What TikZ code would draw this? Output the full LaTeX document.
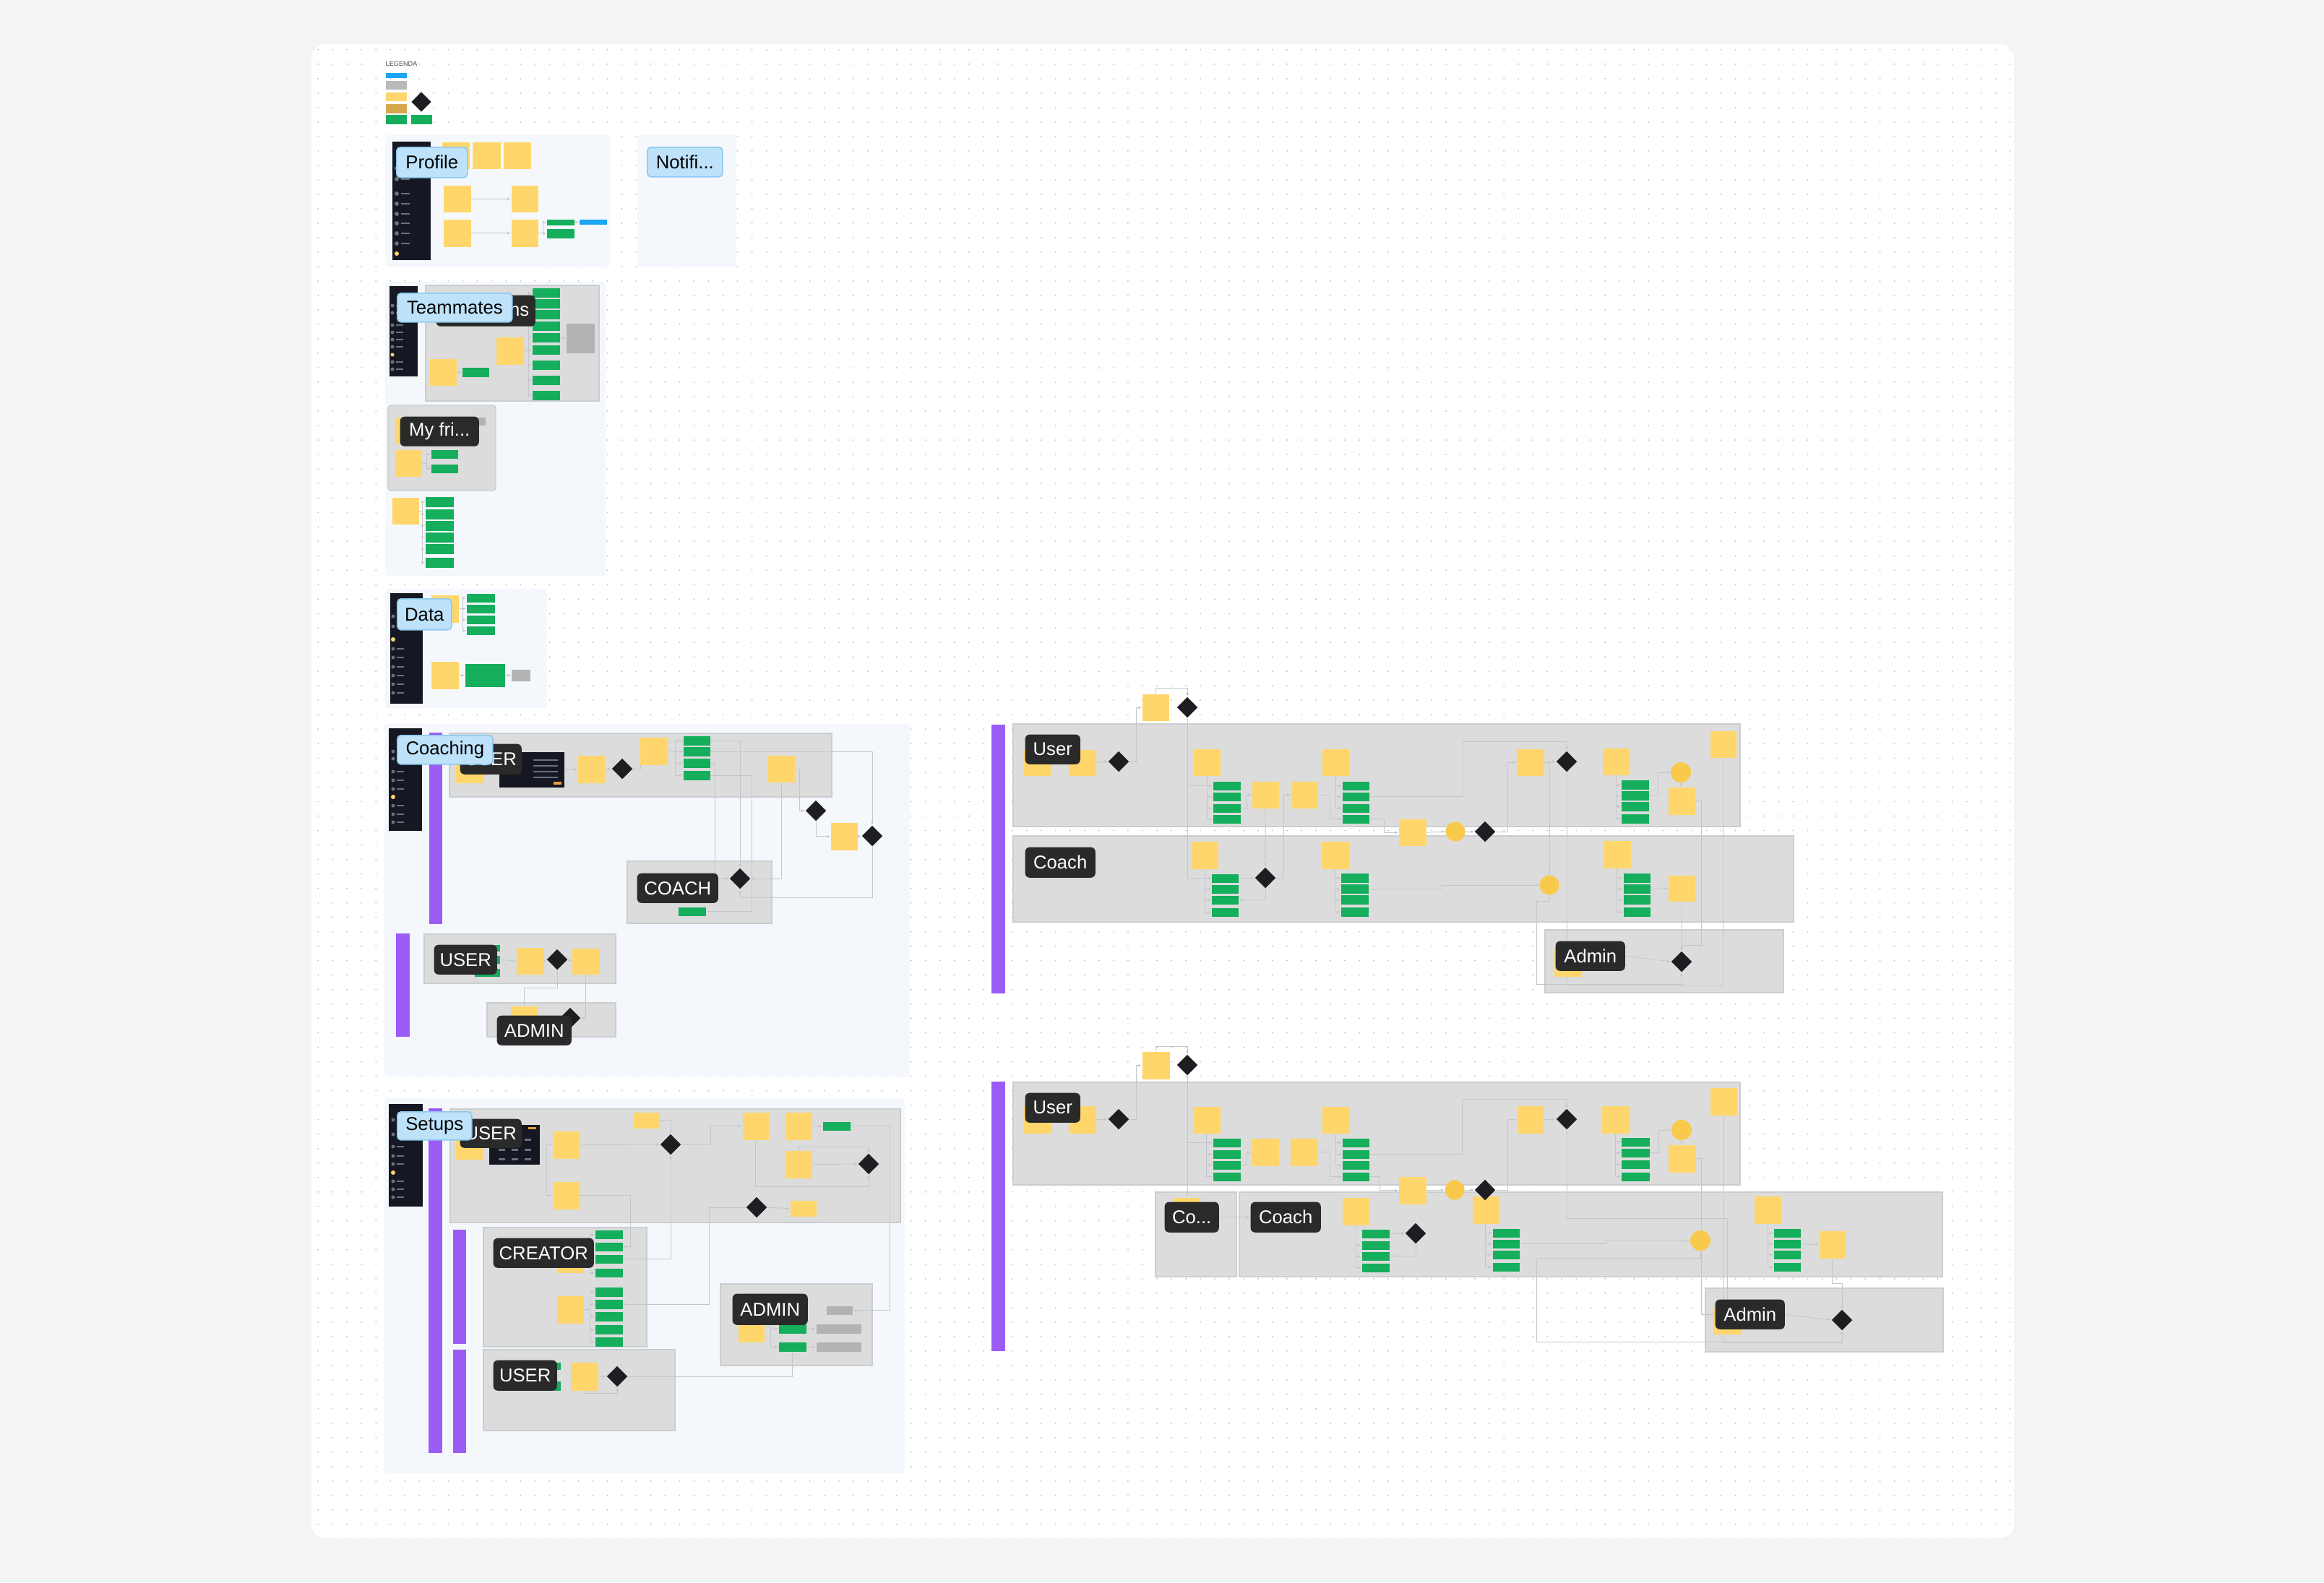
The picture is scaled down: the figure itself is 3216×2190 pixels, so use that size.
\documentclass[tikz,border=0pt]{standalone}
\usepackage{fontspec}
\setmainfont{Liberation Sans}
\usepackage{tikz}
\usetikzlibrary{arrows.meta,shapes.geometric,patterns.meta}
\definecolor{bgc}{HTML}{F3F4F6}
\definecolor{dotc}{HTML}{C3C6CC}
\definecolor{framec}{HTML}{F4F8FD}
\definecolor{lanec}{HTML}{DCDCDC}
\definecolor{laneb}{HTML}{CACECE}
\definecolor{stickyc}{HTML}{FFD66B}
\definecolor{greenc}{HTML}{14AE5C}
\definecolor{diac}{HTML}{1E1E22}
\definecolor{goldc}{HTML}{F8C94B}
\definecolor{tagc}{HTML}{BDE2F9}
\definecolor{tagb}{HTML}{8DC8EE}
\definecolor{darkc}{HTML}{2A2A2A}
\definecolor{purplec}{HTML}{9B5CF6}
\definecolor{sidec}{HTML}{151822}
\definecolor{iconc}{HTML}{6B7080}
\definecolor{bluec}{HTML}{1AA6F2}
\definecolor{greyc}{HTML}{B9B9B9}
\definecolor{greyd}{HTML}{B3B3B3}
\definecolor{goldbox}{HTML}{D6A84E}
\definecolor{linec}{HTML}{C4C7CA}
\definecolor{orangec}{HTML}{E8A23A}
\newcommand{\labfont}{\fontsize{7.3}{8.8}\selectfont}
\pgfdeclarepattern{
  name=griddots, type=uncolored,
  bottom left={\pgfpoint{-0.1cm}{-0.1cm}},
  top right={\pgfpoint{0.1cm}{0.1cm}},
  tile size={\pgfpoint{0.2cm}{0.2cm}},
  code={\pgfpathcircle{\pgfpointorigin}{0.011cm}\pgfusepath{fill}}
}
\pgfdeclarelayer{back}
\pgfdeclarelayer{lines}
\pgfsetlayers{back,lines,main}

\begin{document}
\begin{tikzpicture}[
  x=0.01cm, y=-0.01cm,
  frm/.style={fill=framec, rounded corners=0.04cm},
  lane/.style={fill=lanec, draw=laneb, line width=0.4pt},
  pbar/.style={fill=purplec},
  sbar/.style={fill=sidec, inner sep=0pt, anchor=north west},
  stk/.style={fill=stickyc, minimum width=0.37cm, minimum height=0.37cm, inner sep=0pt, anchor=north west},
  grn/.style={fill=greenc, minimum width=0.38cm, minimum height=0.12cm, inner sep=0pt, anchor=north west},
  lbox/.style={minimum width=0.29cm, minimum height=0.12cm, inner sep=0pt, anchor=north west},
  dia/.style={diamond, fill=diac, minimum size=0.29cm, inner sep=0pt},
  gcirc/.style={circle, fill=goldc, minimum size=0.27cm, inner sep=0pt},
  btag/.style={fill=tagc, draw=tagb, line width=0.45pt, rounded corners=0.05cm, font=\labfont, text=black, inner sep=0pt, anchor=north west},
  dlab/.style={fill=darkc, rounded corners=0.06cm, font=\labfont, text=white, inner sep=0pt, anchor=north west},
  cn/.style={draw=linec, line width=0.25pt, -{Latex[length=1.3pt,width=1.1pt]}}
]
\useasboundingbox (0,0) rectangle (3216,2190);

\begin{pgfonlayer}{back}
\fill[bgc] (0,0) rectangle (3216,2190);
\fill[white, rounded corners=0.2cm] (431,61) rectangle (2787,2129);
\fill[pattern=griddots, pattern color=dotc, rounded corners=0.2cm] (431,61) rectangle (2787,2129);
\fill[frm] (533,187) rectangle (844,370);
\fill[frm] (882,187) rectangle (1019,370);
\fill[frm] (533,390) rectangle (838,797);
\fill[frm] (533,815) rectangle (757,980);
\fill[frm] (532,1002) rectangle (1259,1490);
\fill[frm] (532,1520) rectangle (1252,2039);
\filldraw[lane] (589,395) rectangle (829,555);
\filldraw[lane, rounded corners=0.04cm] (537,561) rectangle (686,679);
\filldraw[lane] (622,1015) rectangle (1151,1103);
\filldraw[lane] (868,1192) rectangle (1068,1278);
\filldraw[lane] (587,1293) rectangle (852,1361);
\filldraw[lane] (674,1388) rectangle (852,1435);
\filldraw[lane] (623,1535) rectangle (1246,1692);
\filldraw[lane] (669,1699) rectangle (895,1864);
\filldraw[lane] (669,1868) rectangle (934,1980);
\filldraw[lane] (997,1777) rectangle (1207,1890);
\filldraw[lane] (1402,1002) rectangle (2408,1144);
\filldraw[lane] (1402,1157) rectangle (2482,1276);
\filldraw[lane] (2138,1287) rectangle (2468,1374);
\filldraw[lane] (1402,1498) rectangle (2408,1640);
\filldraw[lane] (1599,1650) rectangle (1711,1767);
\filldraw[lane] (1715,1650) rectangle (2688,1767);
\filldraw[lane] (2360,1783) rectangle (2689,1871);
\fill[pbar] (594,1014) rectangle (612,1279);
\fill[pbar] (548,1292) rectangle (567,1435);
\fill[pbar] (593,1534) rectangle (612,2011);
\fill[pbar] (627,1702) rectangle (645,1860);
\fill[pbar] (627,1868) rectangle (645,2011);
\fill[pbar] (1372,1003) rectangle (1391,1375);
\fill[pbar] (1372,1497) rectangle (1391,1870);
\end{pgfonlayer}

% legend
\node[anchor=west, font=\fontsize{2.6}{3}\selectfont, text=black!70, inner sep=0pt] (lgt) at (533,88) {LEGENDA};
\node[lbox, fill=bluec, minimum height=0.07cm] (lg1) at (533,100) {};
\node[lbox, fill=greyc] (lg2) at (533,111) {};
\node[lbox, fill=stickyc] (lg3) at (533,127) {};
\node[lbox, fill=goldbox, minimum height=0.13cm] (lg4) at (533,143) {};
\node[lbox, fill=greenc, minimum height=0.13cm] (lg5) at (533,158) {};
\node[dia, minimum size=0.28cm] (lg6) at (583,141) {};
\node[lbox, fill=greenc, minimum height=0.13cm] (lg7) at (568,158) {};

% profile
\node[sbar, minimum width=0.53cm, minimum height=1.64cm] (sbp) at (542,195) {};
\foreach \yy in {233,248,268,282,296,309,323,337} {
  \fill[iconc] (549,\yy) circle (0.03cm);
  \fill[iconc] (555,\yy-1) rectangle (567,\yy+1);
}
\fill[stickyc] (549,351) circle (0.03cm);
\node[stk, minimum width=0.38cm] (pa) at (611,196) {};
\node[stk, minimum width=0.39cm] (pb) at (653,196) {};
\node[stk, minimum width=0.38cm] (pc) at (696,196) {};
\node[stk, minimum width=0.38cm] (pd) at (613,256) {};
\node[stk] (pe) at (707,256) {};
\node[stk, minimum width=0.38cm, minimum height=0.38cm] (pf) at (613,303) {};
\node[stk, minimum height=0.38cm] (pg) at (707,303) {};
\node[grn, minimum height=0.08cm] (pgr1) at (756,303) {};
\node[grn, minimum height=0.13cm] (pgr2) at (756,316) {};
\node[lbox, fill=bluec, minimum width=0.38cm, minimum height=0.07cm] (pbl) at (801,303) {};
\node[btag, minimum width=0.98cm, minimum height=0.42cm] (lprof) at (548,203) {Profile};
\node[btag, minimum width=1.04cm, minimum height=0.41cm] (lnot) at (895,203) {Notifi...};

% teammates
\node[sbar, minimum width=0.39cm, minimum height=1.25cm] (sbt) at (538,395) {};
\foreach \yy in {423,433,450,460,470,480,501,511} {
  \fill[iconc] (543,\yy) circle (0.025cm);
  \fill[iconc] (548,\yy-1) rectangle (558,\yy+1);
}
\fill[stickyc] (543,491) circle (0.025cm);
\foreach \yy [count=\i] in {398,413,428,444,460,477,498,519,540}
  \node[grn, minimum height=0.13cm] (tg\i) at (736,\yy) {};
\node[lbox, fill=greyd, minimum width=0.39cm, minimum height=0.41cm] (tn) at (783,447) {};
\node[stk, minimum width=0.38cm, minimum height=0.38cm] (ta) at (686,466) {};
\node[stk] (tb) at (594,496) {};
\node[grn, minimum width=0.37cm, minimum height=0.13cm] (tgr) at (639,508) {};
\node[dlab, minimum width=1.37cm, minimum height=0.43cm, text width=1.2cm, align=right] (lns) at (603,408) {ns};
\node[btag, minimum width=1.59cm, minimum height=0.40cm] (lteam) at (549,405) {Teammates};
\node[stk, minimum width=0.29cm, minimum height=0.36cm] (tc) at (546,577) {};
\node[lbox, fill=greyd, minimum width=0.11cm, minimum height=0.11cm] (tsq) at (660,577) {};
\node[dlab, minimum width=1.09cm, minimum height=0.41cm] (lfri) at (553,576) {My fri...};
\node[stk] (td) at (546,622) {};
\node[grn, minimum width=0.37cm] (te1) at (596,622) {};
\node[grn, minimum width=0.37cm] (te2) at (596,642) {};
\node[stk] (tf) at (542,688) {};
\foreach \yy [count=\i] in {687,704,720,736,752,771}
  \node[grn, minimum width=0.39cm, minimum height=0.14cm] (tfg\i) at (588,\yy) {};

% data
\node[sbar, minimum width=0.45cm, minimum height=1.53cm] (sbd) at (539,820) {};
\foreach \yy in {853,867,898,910,923,935,947,959} {
  \fill[iconc] (544,\yy) circle (0.025cm);
  \fill[iconc] (549,\yy-1) rectangle (559,\yy+1);
}
\fill[stickyc] (544,885) circle (0.03cm);
\node[stk, minimum width=0.38cm, minimum height=0.38cm] (da) at (596,823) {};
\foreach \yy [count=\i] in {821,836,851,866}
  \node[grn, minimum width=0.39cm] (dg\i) at (645,\yy) {};
\node[stk, minimum width=0.38cm, minimum height=0.38cm] (db) at (596,915) {};
\node[grn, minimum width=0.55cm, minimum height=0.32cm] (dgb) at (643,918) {};
\node[lbox, fill=greyd, minimum width=0.26cm, minimum height=0.16cm] (dgr) at (707,926) {};
\node[btag, minimum width=0.75cm, minimum height=0.43cm] (ldata) at (549,828) {Data};

% coaching
\node[sbar, minimum width=0.46cm, minimum height=1.42cm] (sbc) at (537,1007) {};
\foreach \yy in {1040,1050,1068,1080,1092,1115,1127,1138} {
  \fill[iconc] (544,\yy) circle (0.025cm);
  \fill[iconc] (549,\yy-1) rectangle (559,\yy+1);
}
\fill[stickyc] (544,1103) circle (0.03cm);
\node[stk, minimum width=0.38cm, minimum height=0.43cm] (ca) at (630,1040) {};
\node[sbar, minimum width=0.9cm, minimum height=0.49cm] (cscr) at (690,1040) {};
\foreach \yy in {1052,1060,1068,1076}
  \draw[iconc, line width=0.3pt] (738,\yy) -- (772,\yy);
\fill[orangec] (766,1082) rectangle (777,1086);
\node[dlab, minimum width=0.85cm, minimum height=0.42cm] (luser1) at (636,1029) {USER};
\node[btag, minimum width=1.32cm, minimum height=0.40cm] (lcoach) at (549,1017) {Coaching};
\node[stk, minimum height=0.38cm] (cb) at (799,1045) {};
\node[dia] (cd1) at (861,1064) {};
\node[stk, minimum width=0.38cm, minimum height=0.38cm] (cc) at (885,1020) {};
\foreach \yy [count=\i] in {1018,1033,1049,1066}
  \node[grn, minimum width=0.37cm, minimum height=0.13cm] (cq\i) at (945,\yy) {};
\node[stk] (cd) at (1062,1045) {};
\node[dia] (cd2) at (1129,1122) {};
\node[stk, minimum height=0.38cm] (ce) at (1149,1138) {};
\node[dia] (cd3) at (1207,1157) {};
\node[grn] (cgc) at (938,1255) {};
\node[dlab, minimum width=1.12cm, minimum height=0.41cm] (lcoach2) at (881,1208) {COACH};
\node[dia] (cd4) at (1024,1216) {};
\foreach \yy/\hh [count=\i] in {1307/0.09,1322/0.11,1340/0.11}
  \node[grn, minimum width=0.35cm, minimum height=\hh cm] (cug\i) at (656,\yy) {};
\node[dlab, minimum width=0.87cm, minimum height=0.41cm] (luser2) at (600,1307) {USER};
\node[stk, minimum width=0.38cm] (cf) at (714,1311) {};
\node[dia] (cd5) at (771,1328) {};
\node[stk, minimum width=0.38cm, minimum height=0.36cm] (ci) at (791,1312) {};
\node[stk, minimum height=0.2cm] (ch) at (706,1392) {};
\node[dia] (cd6) at (789,1409) {};
\node[dlab, minimum width=1.03cm, minimum height=0.41cm] (ladmin1) at (687,1405) {ADMIN};

% setups
\node[sbar, minimum width=0.47cm, minimum height=1.42cm] (sbs) at (537,1527) {};
\foreach \yy in {1550,1570,1587,1600,1611,1635,1646,1657} {
  \fill[iconc] (544,\yy) circle (0.025cm);
  \fill[iconc] (549,\yy-1) rectangle (559,\yy+1);
}
\fill[stickyc] (544,1623) circle (0.03cm);
\node[stk, minimum height=0.44cm] (sa) at (630,1560) {};
\node[sbar, minimum width=0.70cm, minimum height=0.55cm] (sscr) at (676,1556) {};
\foreach \xx in {690,708,726} \foreach \yy in {1576,1590,1603}
  \fill[iconc] (\xx,\yy) rectangle ++(9,3);
\fill[orangec] (731,1560) rectangle (742,1563);
\node[dlab, minimum width=0.85cm, minimum height=0.40cm] (luser3) at (636,1548) {USER};
\node[btag, minimum width=1.03cm, minimum height=0.39cm] (lsetup) at (549,1538) {Setups};
\node[stk, minimum height=0.38cm] (sb) at (764,1565) {};
\node[stk, minimum height=0.38cm] (sc) at (764,1635) {};
\node[stk, minimum height=0.22cm] (sd) at (875,1539) {};
\node[dia] (sd1) at (928,1584) {};
\node[stk, minimum width=0.36cm, minimum height=0.38cm] (se) at (1027,1539) {};
\node[stk, minimum height=0.38cm] (sf) at (1086,1539) {};
\node[grn] (sg) at (1138,1552) {};
\node[stk, minimum height=0.38cm] (sh) at (1086,1592) {};
\node[dia] (sd2) at (1202,1611) {};
\node[dia] (sd3) at (1047,1671) {};
\node[stk, minimum width=0.36cm, minimum height=0.22cm] (si) at (1093,1661) {};
\foreach \yy [count=\i] in {1702,1719,1736,1755}
  \node[grn] (sk\i) at (823,\yy) {};
\node[stk, minimum width=0.36cm, minimum height=0.31cm] (sj) at (771,1730) {};
\node[dlab, minimum width=1.39cm, minimum height=0.41cm] (lcreat) at (682,1713) {CREATOR};
\node[stk, minimum height=0.38cm] (sn) at (770,1793) {};
\foreach \yy [count=\i] in {1781,1798,1815,1833,1850}
  \node[grn, minimum height=0.13cm] (sm\i) at (823,\yy) {};
\node[grn, minimum width=0.35cm, minimum height=0.10cm] (sul1) at (740,1885) {};
\node[grn, minimum width=0.35cm, minimum height=0.13cm] (sul2) at (740,1911) {};
\node[dlab, minimum width=0.88cm, minimum height=0.42cm] (luser4) at (682,1882) {USER};
\node[stk, minimum width=0.38cm, minimum height=0.39cm] (sl) at (789,1885) {};
\node[dia] (sd4) at (854,1905) {};
\node[stk, minimum width=0.36cm, minimum height=0.42cm] (sam) at (1021,1815) {};
\node[grn, minimum height=0.13cm] (sag1) at (1077,1832) {};
\node[grn, minimum height=0.13cm] (sag2) at (1077,1857) {};
\node[lbox, fill=greyd, minimum width=0.36cm, minimum height=0.12cm] (sgr1) at (1143,1807) {};
\node[lbox, fill=greyd, minimum width=0.62cm, minimum height=0.13cm] (sgr2) at (1129,1832) {};
\node[lbox, fill=greyd, minimum width=0.62cm, minimum height=0.13cm] (sgr3) at (1129,1857) {};
\node[dlab, minimum width=1.04cm, minimum height=0.43cm] (ladmin2) at (1013,1790) {ADMIN};

% right, upper swimlanes
\node[stk, minimum height=0.36cm] (ua) at (1416,1037) {};
\node[stk, minimum width=0.38cm, minimum height=0.36cm] (ub) at (1478,1037) {};
\node[dlab, minimum width=0.76cm, minimum height=0.41cm] (luA) at (1418,1016) {User};
\node[dia] (ud1) at (1548,1054) {};
\node[stk] (uc) at (1580,960) {};
\node[dia] (ud2) at (1643,979) {};
\node[stk] (ue) at (1651,1036) {};
\foreach \yy [count=\i] in {1081,1096,1112,1127}
  \node[grn] (ug\i) at (1678,\yy) {};
\node[stk] (uf) at (1732,1081) {};
\node[stk] (uh) at (1786,1081) {};
\node[stk] (ui) at (1829,1036) {};
\foreach \yy [count=\i] in {1081,1096,1112,1127}
  \node[grn, minimum width=0.37cm] (uk\i) at (1857,\yy) {};
\node[stk, minimum width=0.38cm] (ul) at (1935,1133) {};
\node[gcirc] (uo1) at (2014,1151) {};
\node[dia] (ud3) at (2055,1151) {};
\node[stk, minimum width=0.38cm] (um) at (2098,1036) {};
\node[dia] (ud4) at (2168,1054) {};
\node[stk] (un) at (2217,1035) {};
\foreach \yy [count=\i] in {1079,1094,1109,1126}
  \node[grn, minimum height=0.13cm] (up\i) at (2243,\yy) {};
\node[gcirc, minimum size=0.28cm] (uo2) at (2326,1069) {};
\node[stk, minimum height=0.38cm] (uq) at (2308,1089) {};
\node[stk, minimum width=0.36cm] (ur) at (2366,1011) {};
\node[dlab, minimum width=0.97cm, minimum height=0.42cm] (lcA) at (1418,1172) {Coach};
\node[stk, minimum height=0.38cm] (va) at (1648,1164) {};
\foreach \yy [count=\i] in {1209,1224,1239,1256}
  \node[grn, minimum width=0.37cm] (vg\i) at (1676,\yy) {};
\node[dia] (vd1) at (1751,1215) {};
\node[stk, minimum width=0.38cm, minimum height=0.38cm] (vb) at (1828,1164) {};
\foreach \yy [count=\i] in {1208,1223,1238,1255}
  \node[grn, minimum height=0.13cm] (vk\i) at (1855,\yy) {};
\node[gcirc] (vo) at (2144,1225) {};
\node[stk, minimum width=0.38cm, minimum height=0.38cm] (vc) at (2218,1163) {};
\foreach \yy [count=\i] in {1208,1223,1238,1255}
  \node[grn, minimum width=0.37cm, minimum height=0.13cm] (vp\i) at (2246,\yy) {};
\node[stk, minimum height=0.36cm] (ve) at (2308,1211) {};
\node[stk, minimum height=0.39cm] (wa) at (2150,1312) {};
\node[dlab, minimum width=0.96cm, minimum height=0.41cm] (laA) at (2152,1302) {Admin};
\node[dia] (wd) at (2327,1331) {};

% right, lower swimlanes
\node[stk, minimum width=0.38cm, minimum height=0.38cm] (xa) at (1416,1530) {};
\node[stk, minimum width=0.38cm, minimum height=0.38cm] (xb) at (1478,1530) {};
\node[dlab, minimum width=0.76cm, minimum height=0.41cm] (luB) at (1418,1512) {User};
\node[dia] (xd1) at (1548,1549) {};
\node[stk, minimum width=0.38cm, minimum height=0.38cm] (xc) at (1580,1455) {};
\node[dia] (xd2) at (1643,1474) {};
\node[stk, minimum width=0.38cm] (xe) at (1650,1531) {};
\foreach \yy [count=\i] in {1575,1591,1606,1622}
  \node[grn] (xg\i) at (1678,\yy) {};
\node[stk, minimum width=0.38cm, minimum height=0.38cm] (xf) at (1731,1575) {};
\node[stk, minimum width=0.38cm, minimum height=0.38cm] (xh) at (1785,1575) {};
\node[stk, minimum width=0.38cm] (xi) at (1829,1531) {};
\foreach \yy [count=\i] in {1575,1591,1606,1622}
  \node[grn, minimum width=0.37cm] (xk\i) at (1857,\yy) {};
\node[stk, minimum width=0.38cm, minimum height=0.38cm] (xl) at (1935,1628) {};
\node[gcirc] (xo1) at (2013,1647) {};
\node[stk, minimum width=0.36cm, minimum height=0.38cm] (xm) at (2099,1530) {};
\node[dia] (xd4) at (2168,1549) {};
\node[stk, minimum width=0.38cm, minimum height=0.38cm] (xn) at (2216,1530) {};
\foreach \yy [count=\i] in {1574,1589,1605,1622}
  \node[grn, minimum width=0.39cm] (xp\i) at (2243,\yy) {};
\node[gcirc, minimum size=0.28cm] (xo2) at (2327,1564) {};
\node[stk, minimum width=0.38cm, minimum height=0.38cm] (xq) at (2308,1584) {};
\node[stk, minimum height=0.38cm] (xr) at (2366,1505) {};
\node[stk] (yz) at (1623,1657) {};
\node[dlab, minimum width=0.75cm, minimum height=0.42cm] (lcoB) at (1611,1663) {Co...};
\node[dlab, minimum width=0.97cm, minimum height=0.42cm] (lcB) at (1730,1663) {Coach};
\node[stk, minimum height=0.38cm] (ya) at (1857,1657) {};
\foreach \yy [count=\i] in {1701,1717,1732,1748}
  \node[grn] (yg\i) at (1884,\yy) {};
\node[dia] (yd1) at (1959,1707) {};
\node[stk, minimum width=0.36cm, minimum height=0.38cm] (yb) at (2037,1655) {};
\node[dia] (xd3) at (2055,1647) {};
\foreach \yy [count=\i] in {1700,1715,1730,1747}
  \node[grn, minimum width=0.37cm] (yk\i) at (2065,\yy) {};
\node[gcirc, minimum size=0.28cm] (yo) at (2353,1717) {};
\node[stk, minimum height=0.38cm] (yc) at (2427,1655) {};
\foreach \yy [count=\i] in {1700,1715,1730,1747}
  \node[grn, minimum width=0.37cm] (yp\i) at (2454,\yy) {};
\node[stk, minimum width=0.36cm, minimum height=0.38cm] (ye) at (2517,1703) {};
\node[stk, minimum width=0.39cm, minimum height=0.38cm] (za) at (2370,1808) {};
\node[dlab, minimum width=0.96cm, minimum height=0.41cm] (laB) at (2373,1798) {Admin};
\node[dia] (zd) at (2549,1827) {};

\begin{pgfonlayer}{lines}
\draw[cn] (pd.east) -- (pe.west);
\draw[cn] (pf.east) -- (pg.west);
\draw[cn] (pg.east) -- ++(6,0) |- (pgr1.west);
\draw[cn] (pg.east) -- ++(6,0) |- (pgr2.west);
\draw[cn] (pgr1.east) -- (pbl.west);
\foreach \i in {1,...,9} \draw[cn] (ta.east) -- ++(6,0) |- (tg\i.west);
\draw[cn] (tb.east) -- (tgr.west);
\draw[cn] (tg5.east) -- (tn.west);
\draw[cn] (td.east) -- ++(6,0) |- (te1.west);
\draw[cn] (td.east) -- ++(6,0) |- (te2.west);
\foreach \i in {1,...,6} \draw[cn] (tf.east) -- ++(4,0) |- (tfg\i.west);
\foreach \i in {1,...,4} \draw[cn] (da.east) -- ++(5,0) |- (dg\i.west);
\draw[cn] (db.east) -- (dgb.west);
\draw[cn] (dgb.east) -- (dgr.west);

\draw[cn] (cscr.east) -- (cb.west);
\draw[cn] (cb.east) -- (cd1.west);
\draw[cn] (cd1.east) -- ++(10,0) |- (cc.west);
\foreach \i in {1,...,4} \draw[cn] (cc.east) -- ++(10,0) |- (cq\i.west);
\draw[cn] (cq1.east) -| (cd4.north);
\draw[cn] (cq2.east) -| (cd3.north);
\draw[cn] (cq3.east) -- ++(6,0) |- (cd4.west);
\draw[cn] (cq4.east) -- ++(57,0) |- (cgc.east);
\draw[cn] (cd.east) -- ++(6,0) |- (cd2.west);
\draw[cn] (cd.south) |- (cd4.east);
\draw[cn] (cd2.south) |- (ce.west);
\draw[cn] (ce.east) -- (cd3.west);
\draw[cn] (cd3.south) -- ++(0,70) -| (cd4.south);
\draw[cn] (cug2.east) -- (cf.west);
\draw[cn] (cf.east) -- (cd5.west);
\draw[cn] (cd5.east) -- (ci.west);
\draw[cn] (cd5.south) -- ++(0,24) -| (ch.north);
\draw[cn] (ci.south) |- (cd6.east);

\draw[cn] (sb.west) -- ++(-8,0) |- (sc.west);
\draw[cn] (sb.east) -- (sd1.west);
\draw[cn] (sd.east) -| (sd1.north);
\draw[cn] (sd1.east) -- ++(40,0) |- (se.west);
\draw[cn] (se.south) -- ++(0,64) -| (sd2.south);
\draw[cn] (sf.east) -- (sg.west);
\draw[cn] (sh.east) -- (sd2.west);
\draw[cn] (sh.north) -- ++(0,-5) -| (sd2.north);
\draw[cn] (sd3.east) -- (si.west);
\draw[cn] (sc.east) -- ++(70,0) |- (sk2.east);
\draw[cn] (sk3.east) -| (sd1.south);
\draw[cn] (sd3.west) -- ++(-50,0) |- (sm2.east);
\foreach \i in {1,...,4} \draw[cn] (sj.east) -- ++(8,0) |- (sk\i.west);
\foreach \i in {1,...,5} \draw[cn] (sn.east) -- ++(8,0) |- (sm\i.west);
\draw[cn] (sl.east) -- (sd4.west);
\draw[cn] (sd4.east) -| (sag2.south);
\draw[cn] (sl.south) -- ++(0,3) -| (sd4.south);
\draw[cn] (sam.east) -- ++(8,0) |- (sag1.west);
\draw[cn] (sam.east) -- ++(8,0) |- (sag2.west);
\draw[cn] (sag1.east) -- (sgr2.west);
\draw[cn] (sag2.east) -- (sgr3.west);
\draw[cn] (sg.east) -- ++(54,0) |- (sgr1.east);

\draw[cn] (ub.east) -- (ud1.west);
\draw[cn] (ud1.east) -- ++(9,0) |- (uc.west);
\draw[cn] (uc.north) -- ++(0,-8) -| (ud2.north);
\draw[cn] (ud2.south) |- (vg1.west);
\draw[cn] (ud2.south |- ug1.west) -- (ug1.west);
\foreach \i in {2,3,4} \draw[cn] (ue.south) |- (ug\i.west);
\draw[cn] (ug3.east) -- ++(8,0) |- (uf.west);
\draw[cn] (uf.south) -- (vd1.north);
\draw[cn] (vd1.east) -- ++(10,0) |- (uh.west);
\draw[cn] (uh.east) -- ++(16,0) |- (uk4.west);
\foreach \i in {1,2,3} \draw[cn] (ui.south) |- (uk\i.west);
\draw[cn] (uk2.east) -- ++(129,0) |- ([yshift=0.12cm]ud4.north) -- (ud4.north);
\draw[cn] (uk4.east) -- ++(20,0) |- (ul.west);
\draw[cn] (ul.east) -- (uo1.west);
\draw[cn] (uo1.east) -- (ud3.west);
\draw[cn] (ud3.east) -- ++(16,0) |- (um.west);
\draw[cn] (um.east) -- (ud4.west);
\draw[cn] (um.east) -| (vo.north);
\draw[cn] (ud4.south) -- ++(0,294) -| (wd.south);
\draw[cn] (vo.south) -- ++(0,8) -- ++(-18,0) -- ++(0,115) -| (wd.south);
\foreach \i in {1,...,4} \draw[cn] (un.south) |- (up\i.west);
\draw[cn] (up2.east) -- ++(12,0) |- (uo2.west);
\draw[cn] (uo2.south) -- (uq.north);
\draw[cn] (uq.east) -| ++(8,200) -| (wd.north);
\draw[cn] (ur.south) -- ++(0,314) -| (wd.south);
\foreach \i in {2,3,4} \draw[cn] (va.south) |- (vg\i.west);
\draw[cn] (vg1.east) -- (vd1.west);
\draw[cn] (vd1.south) |- (vg3.east);
\foreach \i in {1,...,4} \draw[cn] (vb.south) |- (vk\i.west);
\draw[cn] (vk2.east) -- ++(100,0) |- (vo.west);
\foreach \i in {1,...,4} \draw[cn] (vc.south) |- (vp\i.west);
\draw[cn] (vp2.east) -- (ve.west);
\draw[cn] (ve.south) -- (wd.north);
\draw[cn] (laA.east) -- (wd.west);

\draw[cn] (xb.east) -- (xd1.west);
\draw[cn] (xd1.east) -- ++(9,0) |- (xc.west);
\draw[cn] (xc.north) -- ++(0,-7) -| (xd2.north);
\draw[cn] (xd2.south) -- (xd2.south |- yz.north);
\draw[cn] (xd2.south |- xg1.west) -- (xg1.west);
\foreach \i in {2,3,4} \draw[cn] (xe.south) |- (xg\i.west);
\draw[cn] (xg3.east) -- ++(8,0) |- (xf.west);
\draw[cn] (xh.east) -- ++(16,0) |- (xk4.west);
\foreach \i in {1,2,3} \draw[cn] (xi.south) |- (xk\i.west);
\draw[cn] (xk2.east) -- ++(128,0) |- ([yshift=0.12cm]xd4.north) -- (xd4.north);
\draw[cn] (xk4.east) -- ++(14,0) |- (xl.west);
\draw[cn] (xl.east) -- (xo1.west);
\draw[cn] (xo1.east) -- (xd3.west);
\draw[cn] (xd3.east) -- ++(16,0) |- (xm.west);
\draw[cn] (xm.east) -- (xd4.west);
\draw[cn] (xd4.south) -- ++(0,122) -| (za.north);
\foreach \i in {1,...,4} \draw[cn] (xn.south) |- (xp\i.west);
\draw[cn] (xp2.east) -- ++(12,0) |- (xo2.west);
\draw[cn] (xo2.south) -- (xq.north);
\draw[cn] (xq.east) -- ++(7,0) |- (laB.west);
\draw[cn] (xr.south) -- ++(0,314) -| (zd.south);
\draw[cn] (lcoB.east) -- (lcB.west);
\foreach \i in {2,3,4} \draw[cn] (ya.south) |- (yg\i.west);
\draw[cn] (yg1.east) -- (yd1.west);
\draw[cn] (yd1.south) |- (yg3.east);
\foreach \i in {1,...,4} \draw[cn] (yb.south) |- (yk\i.west);
\draw[cn] (yk2.east) -- ++(119,0) |- (yo.west);
\draw[cn] (yo.south) -- ++(0,10) -- ++(-227,0) -- ++(0,116) -| (zd.south);
\foreach \i in {1,...,4} \draw[cn] (yc.south) |- (yp\i.west);
\draw[cn] (yp2.east) -- (ye.west);
\draw[cn] (ye.south) -- ++(0,34) -| (zd.north);
\draw[cn] (laB.east) -- (zd.west);
\end{pgfonlayer}
\end{tikzpicture}
\end{document}
